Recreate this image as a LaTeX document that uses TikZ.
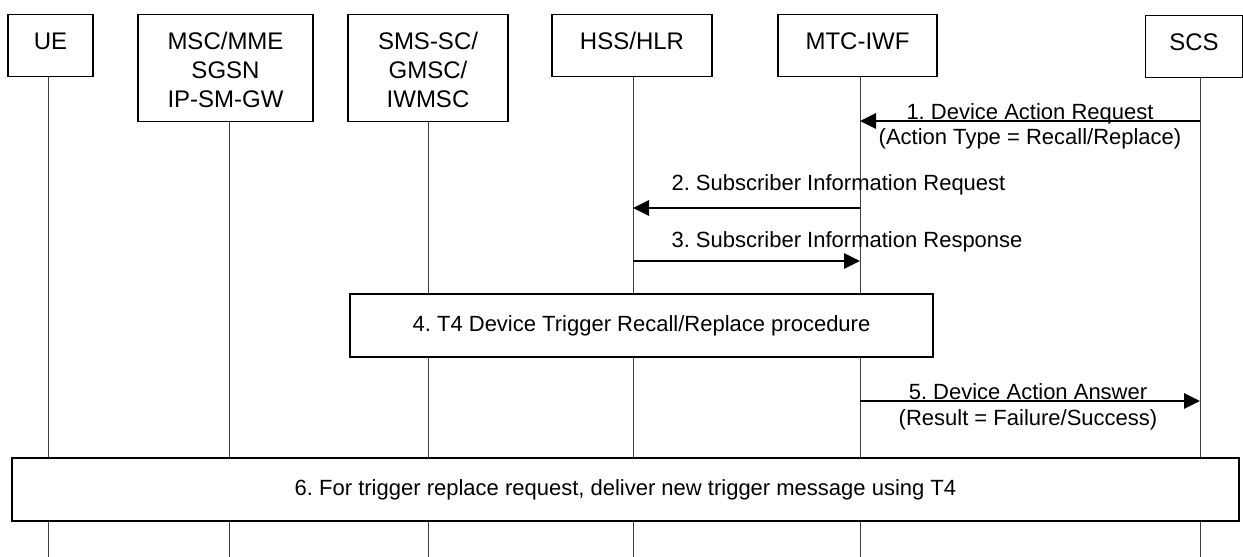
\documentclass[tikz,border=0pt]{standalone}
\usepackage{fontspec}
\setmainfont{Liberation Sans}
\usetikzlibrary{arrows.meta}
\frenchspacing

\begin{document}
\begin{tikzpicture}[x=1pt,y=-1pt,
  font=\fontsize{22}{29}\selectfont,
  entity/.style={draw=black,line width=1.3pt,fill=white,anchor=north,align=center,inner xsep=0pt,inner ysep=0pt,font=\fontsize{24}{29}\selectfont,text height=35pt,text depth=27pt},
  tallentity/.style={entity,text height=93pt,text depth=14pt},
  lifeline/.style={draw=black!75,line width=1pt},
  message/.style={line width=2.7pt,-{Triangle[length=16pt,width=15pt]}},
  procedure/.style={draw=black,line width=2pt,fill=white,inner sep=0pt,align=center,minimum height=63pt}]

\useasboundingbox (0,0) rectangle (1243,557);

\node[entity,minimum width=85pt] (ue) at (50.5,14) {UE};
\node[tallentity,minimum width=175pt] (msc) at (225.5,14) {MSC/MME\\SGSN\\IP-SM-GW};
\node[tallentity,minimum width=160pt] (smsc) at (428,14) {SMS-SC/\\GMSC/\\IWMSC};
\node[entity,minimum width=160pt] (hss) at (632,14) {HSS/HLR};
\node[entity,minimum width=159pt] (mtc) at (857.5,14) {MTC-IWF};
\node[entity,minimum width=97pt] (scs) at (1194,15) {SCS};

\coordinate (ueB) at (48,557);
\coordinate (mscB) at (229,557);
\coordinate (smscB) at (428,557);
\coordinate (hssB) at (633,557);
\coordinate (mtcB) at (860,557);
\coordinate (scsB) at (1200,557);

\draw[lifeline] (ue.south -| ueB) -- (ueB);
\draw[lifeline] (msc.south -| mscB) -- (mscB);
\draw[lifeline] (smsc.south -| smscB) -- (smscB);
\draw[lifeline] (hss.south -| hssB) -- (hssB);
\draw[lifeline] (mtc.south -| mtcB) -- (mtcB);
\draw[lifeline] (scs.south -| scsB) -- (scsB);

\draw[message] (scsB |- 0,121) -- (mtcB |- 0,121);
\node[anchor=base] (req) at (1030,119) {1. Device Action Request};
\node[anchor=base] (reqtype) at (1030,144) {(Action Type = Recall/Replace)};

\draw[message] (mtcB |- 0,208) -- (hssB |- 0,208);
\node[anchor=base west] (subreq) at (668,190) {2. Subscriber Information Request};

\draw[message] (hssB |- 0,261) -- (mtcB |- 0,261);
\node[anchor=base west] (subresp) at (668,247) {3. Subscriber Information Response};

\node[procedure,minimum width=583pt] (recall) at (641.5,325.5) {4. T4 Device Trigger Recall/Replace procedure};

\draw[message] (mtcB |- 0,401) -- (scsB |- 0,401);
\node[anchor=base] (ans) at (1028,399) {5. Device Action Answer};
\node[anchor=base] (result) at (1028,425) {(Result = Failure/Success)};

\node[procedure,minimum width=1227pt] (deliver) at (625.5,489.5) {6. For trigger replace request, deliver new trigger message using T4};

\end{tikzpicture}
\end{document}
